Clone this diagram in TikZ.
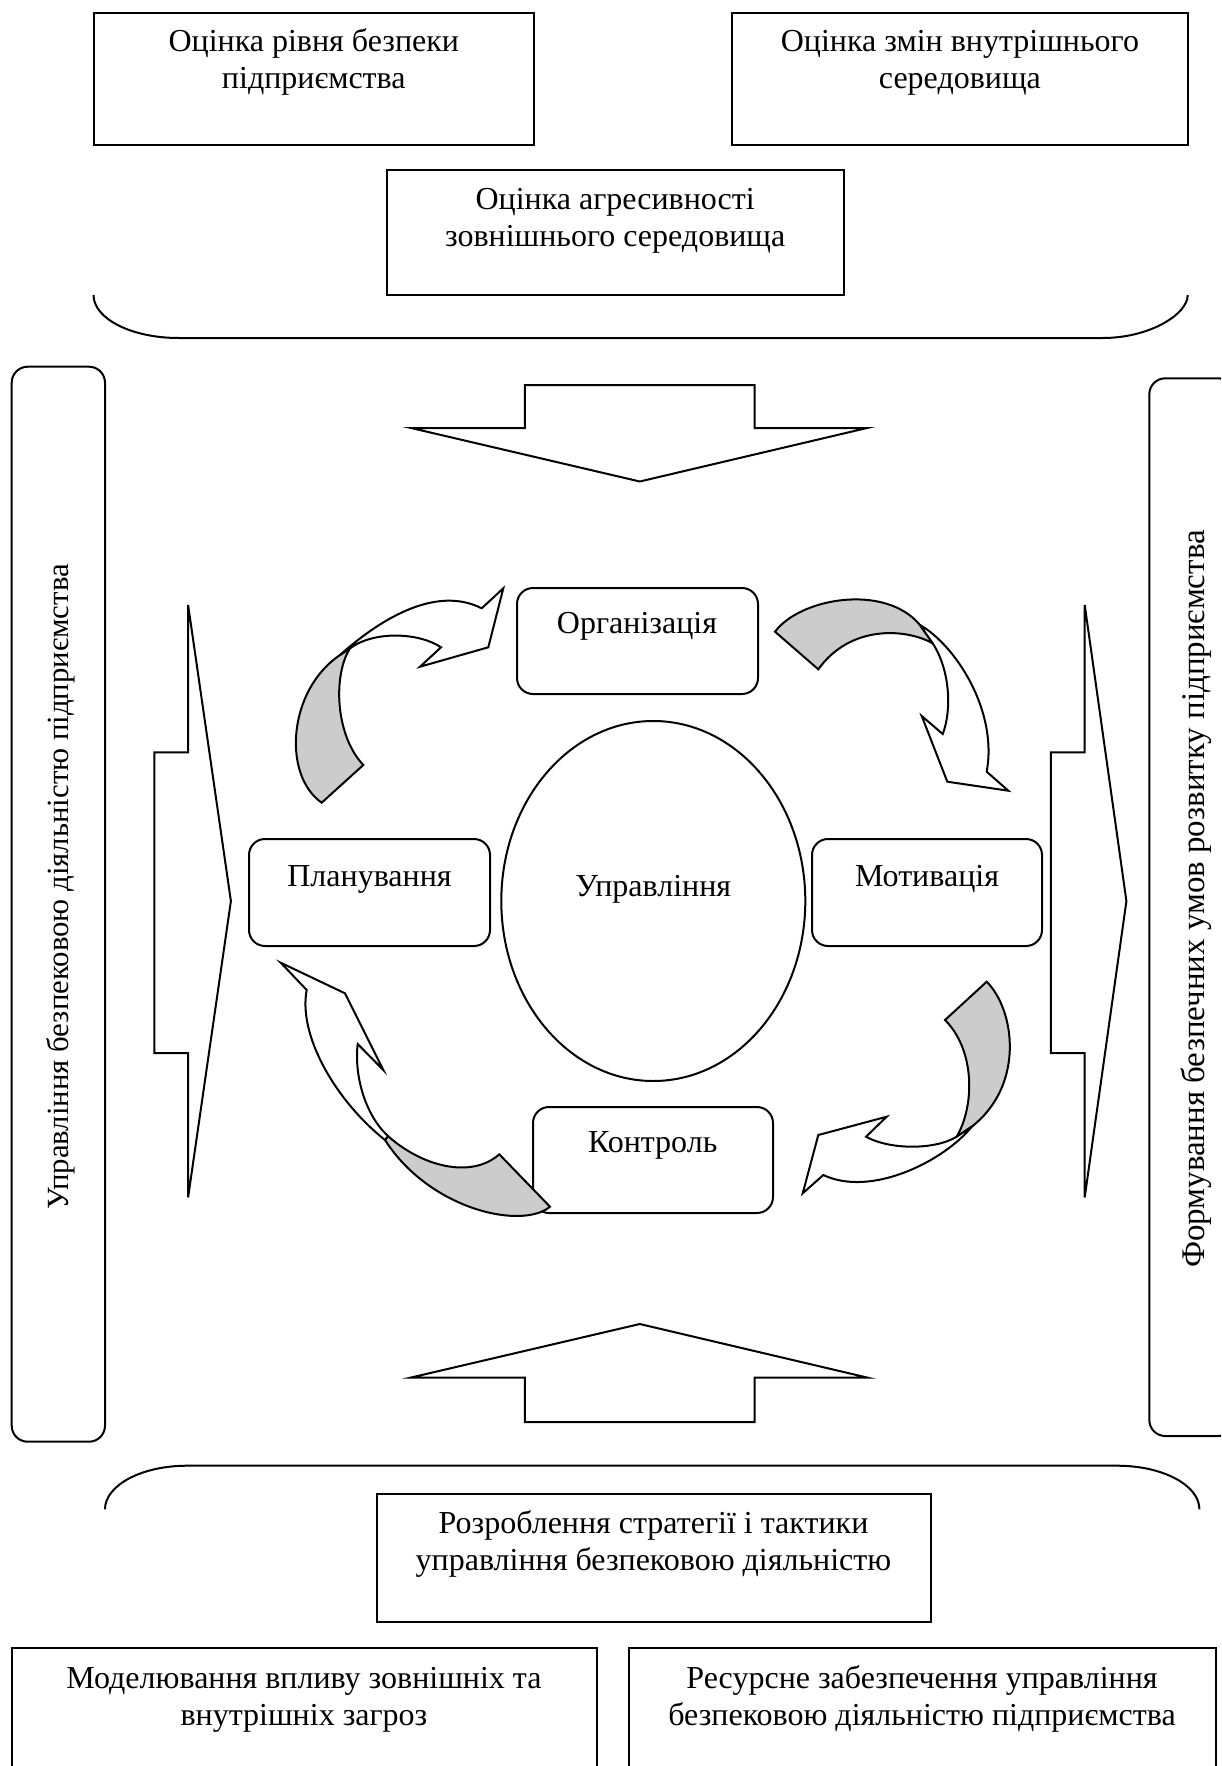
\documentclass[tikz,border=0pt]{standalone}
\usepackage{fontspec}
\setmainfont{Liberation Serif}
\usetikzlibrary{fit,shapes.geometric}
\definecolor{ribbon}{RGB}{204,204,204}
\begin{document}
\begin{tikzpicture}[x=0.5pt,y=-0.5pt,
  outline/.style={draw=black, line width=1pt},
  box/.style={outline, inner sep=0pt},
  rbox/.style={box, rounded corners=8pt},
  lbl/.style={inner sep=0pt, anchor=base, font=\fontsize{16}{18.5}\selectfont},
  back/.style={outline, fill=ribbon, line join=miter},
  front/.style={outline, fill=white, line join=miter}]
\useasboundingbox (0,0) rectangle (1221,1766);
\clip (0,0) rectangle (1221,1766);

% ---------- upper group of assessments ----------
\node[box, fit={(93.5,13.5) (534,145.3)}] (level) {};
\node[lbl] (levelA) at (313.8,51.7) {Оцінка рівня безпеки};
\node[lbl] (levelB) at (313.8,88.4) {підприємства};

\node[box, fit={(732,13.5) (1187.7,145.3)}] (inner) {};
\node[lbl] (innerA) at (959.9,51.7) {Оцінка змін внутрішнього};
\node[lbl] (innerB) at (959.9,88.4) {середовища};

\node[box, fit={(387,170) (843.5,295)}] (outer) {};
\node[lbl] (outerA) at (615.2,209.4) {Оцінка агресивності};
\node[lbl] (outerB) at (615.2,246.5) {зовнішнього середовища};

% bracket under the upper group
\draw[outline] (93.5,295) .. controls (93.5,318.7) and (131.6,338) .. (178.5,338)
  -- (1102.7,338) .. controls (1149.6,338) and (1187.7,314.3) .. (1187.7,295);

% ---------- side bars ----------
\node[rbox, fit={(11.7,366.7) (105,1441.7)}] (leftbar) {};
\node[lbl, rotate=90, font=\fontsize{15.4}{18}\selectfont] (leftbarT) at (68,887) {Управління безпековою діяльністю підприємства};
\node[rbox, fit={(1149.3,378.3) (1234,1436)}] (rightbar) {};
\node[lbl, rotate=90, font=\fontsize{16.5}{18}\selectfont] (rightbarT) at (1204,899) {Формування безпечних умов розвитку підприємства};

% ---------- block arrows ----------
\draw[front] (524.9,385.2) -- (754.7,385.2) -- (754.7,428) -- (867,428) -- (639.8,481.5)
  -- (411.1,428) -- (524.9,428) -- cycle;
\draw[front] (639.8,1324) -- (867,1377.5) -- (754.7,1377.5) -- (754.7,1422) -- (524.9,1422)
  -- (524.9,1377.5) -- (411.1,1377.5) -- cycle;
\draw[front] (188.1,604.9) -- (230.9,901.1) -- (188.1,1197.4) -- (188.1,1053.2)
  -- (154.3,1053.2) -- (154.3,752.4) -- (188.1,752.4) -- cycle;
\draw[front] (1084.7,604.9) -- (1126.4,901.1) -- (1084.7,1197.4) -- (1084.7,1053.2)
  -- (1050.9,1053.2) -- (1050.9,752.4) -- (1084.7,752.4) -- cycle;

% ---------- management cycle ----------
\node[outline, ellipse, inner sep=0pt, minimum width=152pt, minimum height=180pt] (core) at (653.3,901) {};
\node[lbl] (coreT) at (653.3,896.5) {Управління};

\node[rbox, fit={(517,588) (758,694)}] (org) {};
\node[lbl] (orgT) at (637,633.3) {Організація};
\node[rbox, fit={(249,839) (490,946)}] (plan) {};
\node[lbl] (planT) at (369.5,886.3) {Планування};
\node[rbox, fit={(812,839) (1042,946)}] (motiv) {};
\node[lbl] (motivT) at (927,886.3) {Мотивація};
\node[rbox, fit={(533,1107) (773,1213)}] (ctrl) {};
\node[lbl] (ctrlT) at (652.7,1152) {Контроль};

% curved arrow: planning -> organisation
\draw[back] (321.7,802.7) .. controls (282,775) and (288,690) .. (340,655) -- (350,648.3)
  .. controls (333,675) and (335,735) .. (363.3,765) -- cycle;
\draw[front] (340,655) .. controls (368,630) and (430,582) .. (481.7,608.3) -- (503.3,588.3)
  -- (488.3,647.3) -- (420,666.7) -- (441,647.3)
  .. controls (420,633) and (375,630) .. (350,648.3) -- cycle;

% curved arrow: organisation -> motivation
\draw[back] (775,631.7) .. controls (800,598) and (885,583) .. (920,625) -- (932.7,643.3)
  .. controls (905,628) and (850,625) .. (818.3,669.3) -- cycle;
\draw[front] (920,625) .. controls (955,645) and (998,710) .. (986.7,771.7) -- (1008.3,790.7)
  -- (947.3,781.7) -- (921.7,716) -- (942.7,734)
  .. controls (952,710) and (950,670) .. (932.7,643.3) -- cycle;

% curved arrow: motivation -> control
\draw[back] (986.7,981.7) .. controls (1015,1010) and (1025,1085) .. (971.7,1126.7) -- (956.7,1136.7)
  .. controls (975,1105) and (975,1050) .. (945,1020) -- cycle;
\draw[front] (971.7,1126.7) .. controls (945,1160) and (872,1198) .. (823.3,1175) -- (802.7,1193.3)
  -- (818.3,1135) -- (886.7,1116.7) -- (866,1136.7)
  .. controls (890,1150) and (935,1150) .. (956.7,1136.7) -- cycle;

% curved arrow: control -> planning
\draw[back] (550,1206.7) .. controls (522,1230) and (430,1210) .. (385,1140) -- (388,1136)
  .. controls (420,1165) and (470,1180) .. (499.3,1154.3) -- cycle;
\draw[front] (385,1140) .. controls (335,1100) and (298,1035) .. (306.7,990) -- (280.7,962.7)
  -- (345,993.3) -- (383.3,1070) -- (357.7,1044)
  .. controls (354,1075) and (365,1115) .. (388,1136) -- cycle;

% ---------- lower group ----------
\draw[outline] (105,1509.3) .. controls (105,1485.2) and (141.7,1465.7) .. (187,1465.7)
  -- (1117.4,1465.7) .. controls (1162.7,1465.7) and (1199.4,1485.2) .. (1199.4,1509.3);

\node[box, fit={(376.5,1493.6) (930.5,1622)}] (strategy) {};
\node[lbl] (strategyA) at (653.5,1533) {Розроблення стратегії і тактики};
\node[lbl] (strategyB) at (653.5,1570) {управління безпековою діяльністю};

\node[box, fit={(11.5,1648) (597,1800)}] (model) {};
\node[lbl] (modelA) at (304,1688) {Моделювання впливу зовнішніх та};
\node[lbl] (modelB) at (304,1725.5) {внутрішніх загроз};

\node[box, fit={(628.5,1648) (1216,1800)}] (resource) {};
\node[lbl] (resourceA) at (922,1688) {Ресурсне забезпечення управління};
\node[lbl] (resourceB) at (922,1725.5) {безпековою діяльністю підприємства};
\end{tikzpicture}
\end{document}
